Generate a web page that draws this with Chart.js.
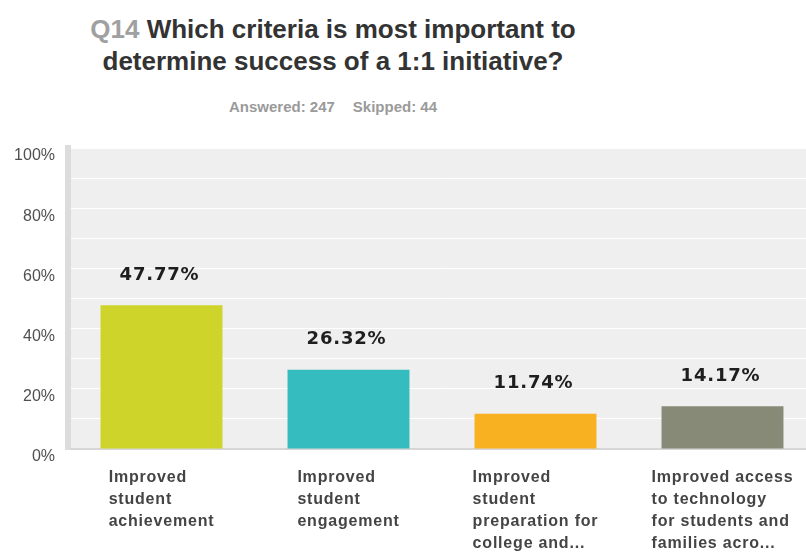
<!DOCTYPE html>
<html>
<head>
<meta charset="utf-8">
<script src="https://cdn.jsdelivr.net/npm/chart.js@4"></script>
<style>
  body { margin: 0; background: #fff; overflow: hidden; width: 806px; height: 560px; position: relative; }
  #title {
    position: absolute; left: 0; top: 13px; width: 666px; text-align: center;
    font: bold 26px "Liberation Sans", Arial, sans-serif; line-height: 32px; color: #333;
  }
  #title .q { color: #a0a0a0; }
  #sub {
    position: absolute; left: 0; top: 98px; width: 666px; text-align: center;
    font: bold 15px "Liberation Sans", Arial, sans-serif; color: #9a9a9a;
  }
  #sub span + span { margin-left: 18px; }
  canvas { position: absolute; left: 0; top: 0; }
</style>
</head>
<body>
<div id="title"><span class="q">Q14</span> Which criteria is most important to<br>determine success of a 1:1 initiative?</div>
<div id="sub"><span>Answered: 247</span><span>Skipped: 44</span></div>
<canvas id="chart" width="816" height="560"></canvas>
<script>
const categories = [
  ["Improved", "student", "achievement"],
  ["Improved", "student", "engagement"],
  ["Improved", "student", "preparation for", "college and..."],
  ["Improved access", "to technology", "for students and", "families acro..."]
];
const percentages = [47.77, 26.32, 11.74, 14.17];
const barColors = ["#cfd42a", "#34bcbf", "#f8b120", "#888a78"];
const yTicks = [0, 20, 40, 60, 80, 100];

// grey plot background behind the bars
const plotBackground = {
  id: "plotBackground",
  beforeDraw(chart) {
    const { ctx, chartArea } = chart;
    ctx.save();
    ctx.fillStyle = "#efefef";
    ctx.fillRect(chartArea.left, chartArea.top, chartArea.right - chartArea.left, chartArea.bottom - chartArea.top);
    ctx.restore();
  }
};

// percentage text above each bar
const valueLabels = {
  id: "valueLabels",
  afterDatasetsDraw(chart) {
    const { ctx } = chart;
    const meta = chart.getDatasetMeta(0);
    ctx.save();
    ctx.font = 'bold 18px "DejaVu Sans", sans-serif';
    ctx.letterSpacing = "0.8px";
    ctx.fillStyle = "#1e1e1e";
    ctx.textAlign = "center";
    ctx.textBaseline = "middle";
    meta.data.forEach((bar, i) => {
      ctx.fillText(percentages[i].toFixed(2) + "%", bar.x - 2, bar.y - 30);
    });
    ctx.restore();
  }
};

// category names: a left-aligned block of lines, centred under each bar
const categoryLabels = {
  id: "categoryLabels",
  afterDraw(chart) {
    const { ctx } = chart;
    const x = chart.scales.x;
    ctx.save();
    ctx.font = 'bold 16px "Liberation Sans", Arial, sans-serif';
    ctx.letterSpacing = "0.8px";
    ctx.fillStyle = "#444";
    ctx.textAlign = "left";
    ctx.textBaseline = "middle";
    categories.forEach((lines, i) => {
      const w = Math.max(...lines.map(l => ctx.measureText(l).width));
      const left = x.getPixelForTick(i) - w / 2;
      lines.forEach((line, j) => {
        ctx.fillText(line, left, x.top + 29 + j * 21.7);
      });
    });
    ctx.restore();
  }
};

new Chart(document.getElementById("chart"), {
  type: "bar",
  data: {
    labels: categories,
    datasets: [{
      data: percentages,
      backgroundColor: barColors,
      barPercentage: 0.652,
      categoryPercentage: 1
    }]
  },
  options: {
    responsive: false,
    animation: false,
    devicePixelRatio: 1,
    layout: { padding: { top: 148, right: 0, left: 0, bottom: 0 } },
    plugins: { legend: { display: false }, tooltip: { enabled: false } },
    scales: {
      x: {
        grid: { display: false },
        border: { display: true, color: "#d6d6d6", width: 2 },
        ticks: { display: false },
        afterFit(scale) { scale.height = 111; }
      },
      y: {
        min: 0,
        max: 100,
        grid: { color: "#ffffff", lineWidth: 1, drawTicks: false },
        border: { display: true, color: "#dcdcdc", width: 6 },
        ticks: {
          stepSize: 10,
          padding: 13,
          labelOffset: 8,
          color: "#505050",
          font: { family: '"Liberation Sans", Arial, sans-serif', size: 16 },
          callback: v => yTicks.includes(v) ? v + "%" : ""
        },
        afterFit(scale) { scale.width = 68; }
      }
    }
  },
  plugins: [plotBackground, valueLabels, categoryLabels]
});
</script>
</body>
</html>
